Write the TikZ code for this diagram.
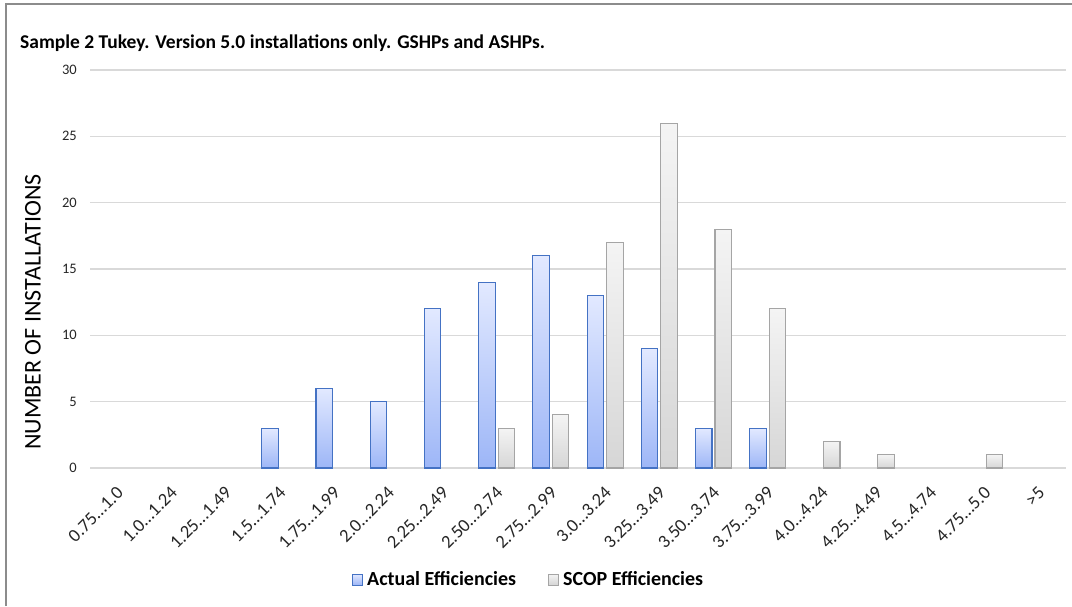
\documentclass[tikz,border=0pt]{standalone}
\usepackage{fontspec}
\setmainfont{Carlito}
\newcommand{\tdots}{…}
\definecolor{gridc}{HTML}{D9D9D9}
\definecolor{frame}{HTML}{8C8C8C}
\definecolor{bluetop}{HTML}{E2E9FF}
\definecolor{bluebot}{HTML}{9DB6F7}
\definecolor{blueedge}{HTML}{4472C4}
\definecolor{graytop}{HTML}{F4F4F4}
\definecolor{graybot}{HTML}{D6D6D6}
\definecolor{grayedge}{HTML}{A5A5A5}
\tikzset{
  gridline/.style={draw=gridc, line width=1.3pt},
  bluebar/.style={draw=blueedge, line width=1.1pt, top color=bluetop, bottom color=bluebot},
  graybar/.style={draw=grayedge, line width=1.1pt, top color=graytop, bottom color=graybot},
  ticklab/.style={font=\fontsize{14.5}{16}\selectfont, text=black!85, inner sep=0pt},
  xlab/.style={font=\fontsize{18.5}{20}\selectfont, text=black!85, inner sep=0pt, rotate=45, anchor=east},
  legtext/.style={font=\bfseries\fontsize{20}{22}\selectfont, inner sep=0pt, anchor=base west},
}
\begin{document}
\begin{tikzpicture}[x=1pt,y=-1pt]
\useasboundingbox (0,0) rectangle (1072,606);
\fill[white] (0,0) rectangle (1072,606);
% frame
\draw[frame, line width=1.3pt] (6,606) -- (6,4) -- (1072,4);
% title
\node[anchor=base west, inner sep=0pt, font=\bfseries\fontsize{19.5}{22}\selectfont] (title) at (20,48) {Sample 2 Tukey. Version 5.0 installations only. GSHPs and ASHPs.};
% gridlines and tick labels
\foreach \v in {0,5,10,15,20,25,30}{
  \pgfmathsetmacro{\yy}{468-13.267*\v}
  \draw[gridline] (90,\yy) -- (1066,\yy);
  \node[ticklab, anchor=east] (yt\v) at (77,\yy) {\v};
}
% y title
\node[rotate=90, inner sep=0pt, font=\fontsize{24}{28}\selectfont] (ytitle) at (33,312) {NUMBER OF INSTALLATIONS};
% bars: actual
\foreach \i/\n in {3/3,4/6,5/5,6/12,7/14,8/16,9/13,10/9,11/3,12/3}{
  \pgfmathsetmacro{\c}{90+54.22*(\i+0.5)}
  \pgfmathsetmacro{\t}{468-13.267*\n}
  \draw[bluebar] (\c-18,468) rectangle (\c-1.5,\t);
}
% bars: SCOP
\foreach \i/\n in {7/3,8/4,9/17,10/26,11/18,12/12,13/2,14/1,16/1}{
  \pgfmathsetmacro{\c}{90+54.22*(\i+0.5)}
  \pgfmathsetmacro{\t}{468-13.267*\n}
  \draw[graybar] (\c+1.5,468) rectangle (\c+18,\t);
}
% x labels
\foreach \i/\a/\b in {0/0.75/1.0,1/1.0/1.24,2/1.25/1.49,3/1.5/1.74,4/1.75/1.99,5/2.0/2.24,6/2.25/2.49,7/2.50/2.74,8/2.75/2.99,9/3.0/3.24,10/3.25/3.49,11/3.50/3.74,12/3.75/3.99,13/4.0/4.24,14/4.25/4.49,15/4.5/4.74,16/4.75/5.0}{
  \pgfmathsetmacro{\c}{90+54.22*(\i+0.5)}
  \node[xlab] (xl\i) at (\c+3,490) {\a\tdots\b};
}
\node[xlab] (xl17) at (90+54.22*17.5+3,490) {>5};
% legend
\draw[bluebar, line width=0.9pt] (352,574) rectangle (362,585);
\node[legtext] (leg1) at (367,585) {Actual Efficiencies};
\draw[graybar, line width=0.9pt] (548,574) rectangle (558,585);
\node[legtext] (leg2) at (563,585) {SCOP Efficiencies};
\end{tikzpicture}
\end{document}
